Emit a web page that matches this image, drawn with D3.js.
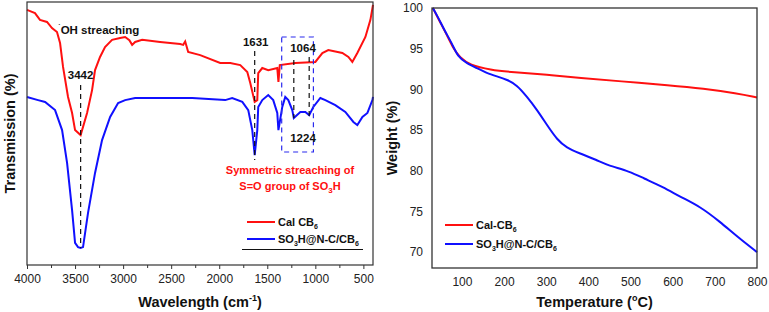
<!DOCTYPE html>
<html>
<head>
<meta charset="utf-8">
<script src="https://cdn.jsdelivr.net/npm/d3@7"></script>
<style>
  body { margin: 0; background: #fff; }
  svg { font-family: "Liberation Sans", Arial, sans-serif; }
  .tick text { font-size: 12px; fill: #222; }
  .axis-title { font-size: 14.5px; font-weight: bold; fill: #111; }
  .note { font-size: 11.5px; font-weight: bold; fill: #111; }
</style>
</head>
<body>
<svg id="chart" width="769" height="312"></svg>
<script>
// FTIR spectra: [wavenumber (cm-1), transmission (arb. %)]
const calCB6Ftir = [
  [4000, 97.0], [3917, 95.8], [3865, 93.2], [3792, 92.4], [3740, 90.1], [3688, 88.6],
  [3656, 84.4], [3625, 75.3], [3573, 63.9], [3531, 57.8], [3500, 51.3], [3442, 49.4],
  [3375, 57.8], [3323, 66.5], [3292, 74.1], [3240, 79.1], [3188, 82.9], [3115, 85.6],
  [3031, 86.3], [2979, 86.7], [2935, 85.5], [2906, 83.7], [2875, 84.8], [2802, 85.6],
  [2615, 84.8], [2406, 84.0], [2375, 83.7], [2354, 85.0], [2323, 81.0], [2198, 79.8],
  [1990, 76.8], [1885, 76.8], [1781, 76.0], [1708, 73.4], [1677, 69.2], [1631, 62.0],
  [1604, 62.7], [1594, 73.0], [1552, 74.9], [1490, 74.1], [1396, 74.9], [1384, 69.6],
  [1370, 76.0], [1208, 76.8], [1000, 77.2], [927, 80.6], [865, 81.7], [719, 80.6],
  [656, 79.1], [615, 77.2], [563, 80.6], [479, 86.7], [427, 93.2], [400, 98.9]
];
const so3hFtir = [
  [4000, 63.9], [3885, 62.7], [3812, 62.0], [3708, 58.9], [3635, 51.3], [3583, 38.8],
  [3531, 20.9], [3500, 8.4], [3469, 6.8], [3442, 6.5], [3417, 6.8], [3365, 19.8],
  [3292, 35.0], [3219, 47.5], [3135, 56.3], [3052, 61.6], [2979, 62.7], [2875, 63.5],
  [2635, 63.5], [2281, 63.5], [1938, 62.7], [1865, 63.5], [1760, 62.0], [1698, 58.9],
  [1656, 51.3], [1631, 41.8], [1604, 51.3], [1594, 60.1], [1552, 62.7], [1490, 64.6],
  [1438, 62.7], [1396, 57.8], [1384, 51.3], [1344, 60.1], [1313, 63.9], [1281, 62.7],
  [1240, 58.9], [1224, 55.9], [1156, 58.2], [1104, 58.2], [1064, 57.0], [1021, 60.1],
  [948, 63.5], [896, 62.7], [792, 60.8], [688, 58.2], [604, 54.4], [563, 53.2],
  [510, 56.3], [458, 57.8], [406, 62.7], [400, 63.9]
];
const ftirTicks = [4000, 3500, 3000, 2500, 2000, 1500, 1000, 500];
const ftirMinorTicks = [3750, 3250, 2750, 2250, 1750, 1250, 750];

// TGA curves: [temperature (C), weight (%)]
const calCB6Tga = [
  [31, 100], [52, 97.9], [67, 96.4], [79, 95.1], [95, 93.9], [119, 93.0], [167, 92.4],
  [221, 92.1], [302, 91.8], [380, 91.4], [475, 91.0], [594, 90.5], [672, 90.1],
  [753, 89.5], [800, 89.0]
];
const so3hTga = [
  [31, 100], [43, 98.9], [60, 97.1], [76, 95.7], [90, 94.0], [112, 93.2], [136, 92.6],
  [159, 92.0], [183, 91.6], [207, 91.2], [231, 90.5], [254, 89.1], [278, 87.5],
  [302, 85.6], [326, 83.8], [349, 82.8], [376, 82.2], [421, 81.3], [444, 80.7],
  [499, 79.9], [530, 79.1], [577, 78.0], [618, 76.8], [665, 75.6], [713, 73.7],
  [753, 71.9], [800, 70.0]
];
const tgaXTicks = [100, 200, 300, 400, 500, 600, 700, 800];
const tgaYTicks = [70, 75, 80, 85, 90, 95, 100];

const RED = "#ff1010", BLUE = "#1010ff";
const svg = d3.select("#chart");

// ---------- left panel: FTIR ----------
const L = { left: 27, right: 373, top: 2, bottom: 265 };
const xF = d3.scaleLinear().domain([4000, 400]).range([L.left, L.right]);
const yF = d3.scaleLinear().domain([0, 100]).range([L.bottom, L.top]);

const lineF = d3.line().x(d => xF(d[0])).y(d => yF(d[1]));

svg.append("path").datum(calCB6Ftir).attr("d", lineF)
  .attr("fill", "none").attr("stroke", RED).attr("stroke-width", 2);
svg.append("path").datum(so3hFtir).attr("d", lineF)
  .attr("fill", "none").attr("stroke", BLUE).attr("stroke-width", 2);

svg.append("rect")
  .attr("x", L.left).attr("y", L.top)
  .attr("width", L.right - L.left).attr("height", L.bottom - L.top)
  .attr("fill", "none").attr("stroke", "#333").attr("stroke-width", 1.2);

const gxF = svg.append("g").attr("transform", `translate(0,${L.bottom})`)
  .call(d3.axisBottom(xF).tickValues(ftirTicks).tickSize(4).tickPadding(5).tickFormat(d3.format("d")));
gxF.select(".domain").remove();
gxF.selectAll("line").attr("stroke", "#333");
svg.append("g").attr("transform", `translate(0,${L.bottom})`)
  .call(d3.axisBottom(xF).tickValues(ftirMinorTicks).tickSize(3).tickFormat(""))
  .call(g => g.select(".domain").remove())
  .selectAll("line").attr("stroke", "#333");

const wl = svg.append("text").attr("class", "axis-title")
  .attr("x", (L.left + L.right) / 2).attr("y", 307).attr("text-anchor", "middle");
wl.append("tspan").text("Wavelength (cm");
wl.append("tspan").attr("font-size", "9px").attr("dy", -6).text("-1");
wl.append("tspan").attr("dy", 6).text(")");

svg.append("text").attr("class", "axis-title")
  .attr("transform", `translate(15,${(L.top + L.bottom) / 2}) rotate(-90)`)
  .attr("text-anchor", "middle").text("Transmission (%)");

// peak markers
function dashV(x, y1, y2) {
  svg.append("line").attr("x1", x).attr("x2", x).attr("y1", y1).attr("y2", y2)
    .attr("stroke", "#111").attr("stroke-width", 1.2).attr("stroke-dasharray", "5,4");
}
dashV(xF(3442), 85, 248);
dashV(xF(1631), 51, 160);
dashV(xF(1224), 60, 118);
dashV(xF(1064), 57, 116);

svg.append("rect").attr("x", xF(1350)).attr("y", 37)
  .attr("width", xF(1020) - xF(1350)).attr("height", 115)
  .attr("fill", "none").attr("stroke", "#2a2aee").attr("stroke-width", 1.2)
  .attr("stroke-dasharray", "5,4");

const oh = svg.append("text").attr("class", "note").attr("x", 58).attr("y", 34);
oh.append("tspan").attr("font-size", "8px").attr("dy", -4).text("\u02D9");
oh.append("tspan").attr("dy", 4).text("OH streaching");

svg.append("text").attr("class", "note").attr("x", xF(3442)).attr("y", 79)
  .attr("text-anchor", "middle").text("3442");
svg.append("text").attr("class", "note").attr("x", xF(1631) + 1).attr("y", 46)
  .attr("text-anchor", "middle").text("1631");
svg.append("text").attr("class", "note").attr("x", 303).attr("y", 52)
  .attr("text-anchor", "middle").text("1064");
svg.append("text").attr("class", "note").attr("x", 303).attr("y", 142)
  .attr("text-anchor", "middle").text("1224");

svg.append("text").attr("x", 290).attr("y", 174).attr("text-anchor", "middle")
  .attr("font-size", "11px").attr("font-weight", "bold").attr("fill", RED)
  .text("Symmetric streaching of");
const so = svg.append("text").attr("x", 290).attr("y", 190).attr("text-anchor", "middle")
  .attr("font-size", "11px").attr("font-weight", "bold").attr("fill", RED);
so.append("tspan").text("S=O group of SO");
so.append("tspan").attr("font-size", "8px").attr("dy", 3).text("3");
so.append("tspan").attr("dy", -3).text("H");

// legend items
function legendItem(x, y, color, name, sub, tail) {
  svg.append("line").attr("x1", x).attr("x2", x + 28).attr("y1", y).attr("y2", y)
    .attr("stroke", color).attr("stroke-width", 2);
  const t = svg.append("text").attr("x", x + 31).attr("y", y + 4)
    .attr("font-size", "11px").attr("font-weight", "bold").attr("fill", "#111");
  t.append("tspan").text(name);
  t.append("tspan").attr("font-size", "7px").attr("dy", 3).text(sub);
  if (tail) {
    t.append("tspan").attr("dy", -3).text(tail[0]);
    t.append("tspan").attr("font-size", "7px").attr("dy", 3).text(tail[1]);
  }
}
legendItem(247, 222, RED, "Cal CB", "6");
legendItem(247, 239, BLUE, "SO", "3", ["H@N-C/CB", "6"]);
svg.append("line").attr("x1", 242).attr("x2", 363).attr("y1", 249.5).attr("y2", 249.5)
  .attr("stroke", "#111").attr("stroke-width", 1);

// ---------- right panel: TGA ----------
const R = { left: 432, right: 757, top: 8, bottom: 268 };
const xT = d3.scaleLinear().domain([29, 800]).range([R.left, R.right]);
const yT = d3.scaleLinear().domain([68.05, 100]).range([R.bottom, R.top]);
const lineT = d3.line().x(d => xT(d[0])).y(d => yT(d[1])).curve(d3.curveBasis);

svg.append("path").datum(calCB6Tga).attr("d", lineT)
  .attr("fill", "none").attr("stroke", RED).attr("stroke-width", 2);
svg.append("path").datum(so3hTga).attr("d", lineT)
  .attr("fill", "none").attr("stroke", BLUE).attr("stroke-width", 2);

svg.append("rect")
  .attr("x", R.left).attr("y", R.top)
  .attr("width", R.right - R.left).attr("height", R.bottom - R.top)
  .attr("fill", "none").attr("stroke", "#333").attr("stroke-width", 1.3);

const gxT = svg.append("g").attr("transform", `translate(0,${R.bottom})`)
  .call(d3.axisBottom(xT).tickValues(tgaXTicks).tickSize(0).tickPadding(9));
gxT.select(".domain").remove();
const gyT = svg.append("g").attr("transform", `translate(${R.left},0)`)
  .call(d3.axisLeft(yT).tickValues(tgaYTicks).tickSize(0).tickPadding(9));
gyT.select(".domain").remove();

const tt = svg.append("text").attr("class", "axis-title")
  .attr("x", (R.left + R.right) / 2).attr("y", 307).attr("text-anchor", "middle");
tt.append("tspan").text("Temperature (");
tt.append("tspan").attr("font-size", "9px").attr("dy", -6).text("o");
tt.append("tspan").attr("dy", 6).text("C)");

svg.append("text").attr("class", "axis-title")
  .attr("transform", `translate(397,${(R.top + R.bottom) / 2}) rotate(-90)`)
  .attr("text-anchor", "middle").text("Weight (%)");

legendItem(445, 225, RED, "Cal-CB", "6");
legendItem(445, 244, BLUE, "SO", "3", ["H@N-C/CB", "6"]);
</script>
</body>
</html>
